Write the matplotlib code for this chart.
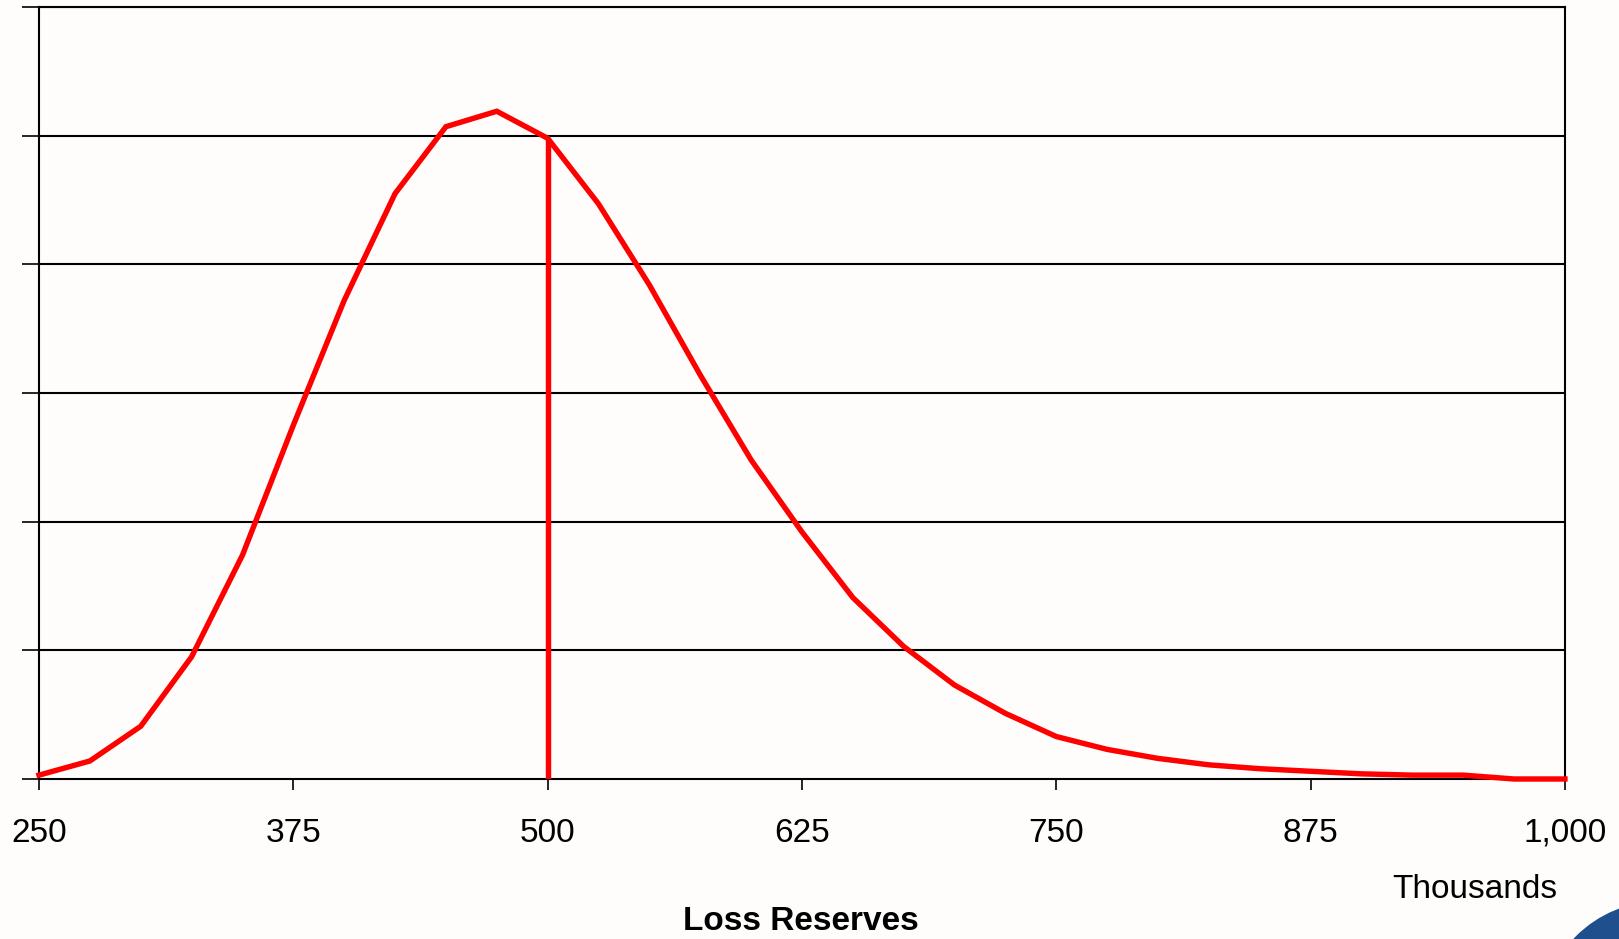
import numpy as np
import matplotlib.pyplot as plt
from matplotlib.patches import Ellipse

plt.rcParams['font.family'] = ['Liberation Sans', 'DejaVu Sans']

# loss reserves (thousands) and relative density
reserves = list(range(250, 1001, 25))
density = [0.03, 0.14, 0.41, 0.95, 1.74, 2.75, 3.72, 4.55, 5.07, 5.19,
           4.98, 4.47, 3.84, 3.14, 2.48, 1.92, 1.41, 1.03, 0.73, 0.51,
           0.33, 0.23, 0.16, 0.11, 0.08, 0.06, 0.04, 0.03, 0.03, 0.0, 0.0]
marker_x = 500
x_ticks = [250, 375, 500, 625, 750, 875, 1000]
x_labels = ["250", "375", "500", "625", "750", "875", "1,000"]
y_ticks = [0, 1, 2, 3, 4, 5, 6]

bg = '#fefdfb'
fig = plt.figure(figsize=(16.19, 9.39), dpi=100, facecolor=bg)
ax = fig.add_axes([0.0241, 0.1704, 0.9425, 0.8221], facecolor=bg)

for yv in y_ticks[1:]:
    ax.axhline(yv, color='black', lw=1.5, zorder=1)

ax.plot(reserves, density, color='#ff0000', lw=3.9, zorder=3, clip_on=False,
        solid_joinstyle='miter')
marker_y = density[reserves.index(marker_x)]
ax.plot([marker_x, marker_x], [0, marker_y], color='#ff0000', lw=3.9,
        zorder=3, solid_capstyle='butt')

ax.set_xlim(250, 1000)
ax.set_ylim(0, 6)
ax.set_xticks(x_ticks)
ax.set_xticklabels(x_labels)
ax.set_yticks(y_ticks)
ax.set_yticklabels([])
ax.tick_params(axis='x', length=8, width=1.2, pad=20, labelsize=24)
ax.tick_params(axis='y', length=12, width=1.2)
for side in ['left', 'right', 'bottom', 'top']:
    ax.spines[side].set_linewidth(1.5)
    ax.spines[side].set_color('black')

fig.text(0.9617, 0.0525, "Thousands", ha='right', va='center', fontsize=24)
fig.text(0.4947, 0.019, "Loss Reserves", ha='center', va='center',
         fontsize=24, fontweight='bold')

# corner decoration
fig.patches.append(Ellipse((1660 / 1619, -81 / 939), 236 / 1619, 236 / 939,
                           transform=fig.transFigure, color='#1f4f8c'))

fig.savefig('out.png', dpi=100, facecolor=bg)
